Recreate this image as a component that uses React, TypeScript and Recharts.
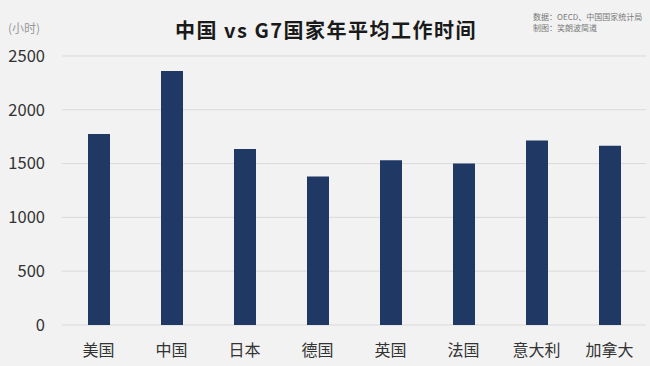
import React from 'react';
import { BarChart, Bar, XAxis, YAxis, CartesianGrid } from 'recharts';

const countries = ['美国', '中国', '日本', '德国', '英国', '法国', '意大利', '加拿大'];
const hours = [1775, 2360, 1635, 1380, 1530, 1500, 1715, 1665];
const yTicks = [0, 500, 1000, 1500, 2000, 2500];

const data = countries.map((name, i) => ({ name, hours: hours[i] }));

const FONT = '"Noto Sans CJK SC", "Noto Sans", sans-serif';

export default function App() {
  return (
    <div style={{ position: 'relative', width: 650, height: 366, background: '#f2f2f2', fontFamily: FONT }}>
      <style>{'body{margin:0}'}</style>
      <div style={{
        position: 'absolute', left: 0, width: 652, top: 15, textAlign: 'center',
        fontSize: 20, fontWeight: 700, color: '#1a1a1a', lineHeight: '30px', letterSpacing: 1.5,
        whiteSpace: 'pre',
      }}>
        {'中国 vs G7国家年平均工作时间'}
      </div>
      <div style={{ position: 'absolute', left: 533, top: 11, fontSize: 8, lineHeight: '11px', color: '#777' }}>
        <div>数据：OECD、中国国家统计局</div>
        <div>制图：笑朗波简道</div>
      </div>
      <div style={{ position: 'absolute', left: 8, top: 19, fontSize: 12, color: '#9a9a9a' }}>(小时)</div>
      <div style={{ position: 'absolute', left: 0, top: 0 }}>
        <BarChart width={650} height={366} data={data} margin={{ top: 56, right: 4, left: 0, bottom: 6 }}>
          <CartesianGrid vertical={false} stroke="#d9d9d9" />
          <XAxis dataKey="name" axisLine={false} tickLine={false} tickSize={0} tickMargin={20} height={35}
            interval={0} tick={{ fontSize: 16, fill: '#333', fontFamily: FONT }} />
          <YAxis domain={[0, 2500]} ticks={yTicks} axisLine={false} tickLine={false} tickSize={0}
            tickMargin={17} width={62} tick={{ fontSize: 16.5, fill: '#333', fontFamily: FONT }} />
          <Bar dataKey="hours" fill="#1f3864" barSize={22} isAnimationActive={false} />
        </BarChart>
      </div>
    </div>
  );
}
